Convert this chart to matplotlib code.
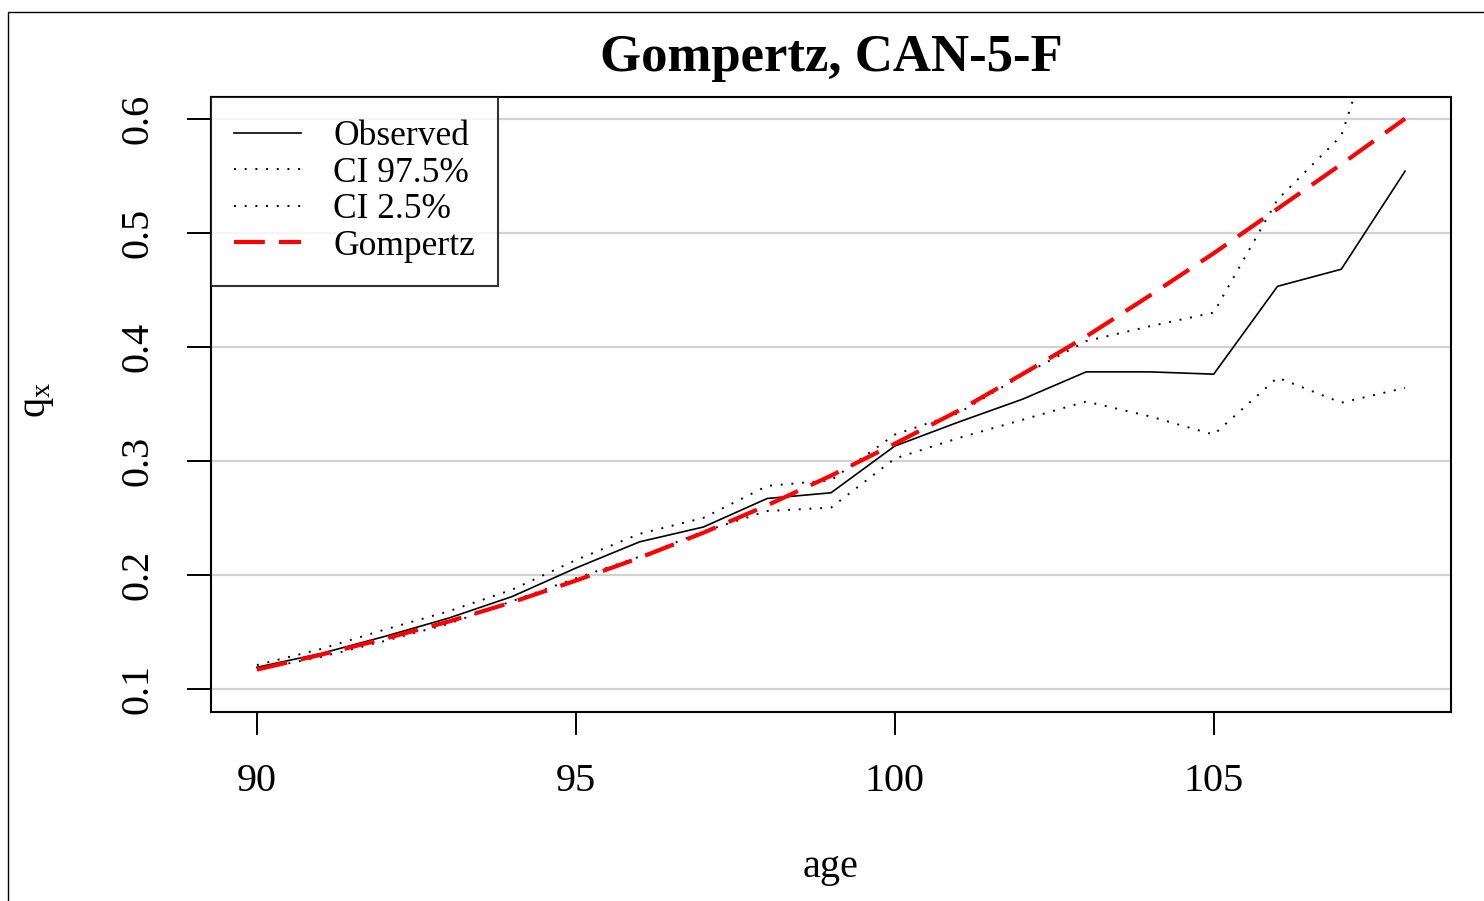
import matplotlib
matplotlib.use("Agg")
import matplotlib.pyplot as plt
from matplotlib.patches import Rectangle

plt.rcParams["font.family"] = ["Liberation Serif", "DejaVu Serif"]
plt.rcParams["mathtext.fontset"] = "custom"
plt.rcParams["mathtext.rm"] = "Liberation Serif"

age = list(range(90, 109))
observed = [0.119, 0.131, 0.146, 0.162, 0.181, 0.206, 0.229, 0.242, 0.267, 0.272,
            0.313, 0.334, 0.354, 0.378, 0.378, 0.376, 0.453, 0.468, 0.554]
ci_upper = [0.121, 0.135, 0.152, 0.168, 0.187, 0.213, 0.236, 0.250, 0.278, 0.283,
            0.323, 0.342, 0.375, 0.405, 0.418, 0.430, 0.529, 0.585, 0.756]
ci_lower = [0.117, 0.128, 0.142, 0.157, 0.177, 0.197, 0.216, 0.238, 0.256, 0.259,
            0.302, 0.320, 0.336, 0.352, 0.339, 0.323, 0.373, 0.351, 0.364]
gompertz = [0.117, 0.130, 0.144, 0.159, 0.176, 0.195, 0.215, 0.237, 0.261, 0.287,
            0.315, 0.344, 0.376, 0.409, 0.445, 0.482, 0.521, 0.560, 0.600]
xticks = [90, 95, 100, 105]
yticks = [0.1, 0.2, 0.3, 0.4, 0.5, 0.6]

W, H = 1484, 901
fig = plt.figure(figsize=(W / 100, H / 100), dpi=100)
ax = fig.add_axes([211 / W, 1 - 712 / H, (1451 - 211) / W, (712 - 97) / H])

for y in yticks:
    ax.axhline(y, color="#d2d2d2", lw=1.6, zorder=0)

dots = (0, (1, 4.5))
ax.plot(age, observed, color="black", lw=1.2, label="Observed")
ax.plot(age, ci_upper, color="black", lw=1.4, ls=dots, label="CI 97.5%")
ax.plot(age, ci_lower, color="black", lw=1.4, ls=dots, label="CI 2.5%")
ax.plot(age, gompertz, color="red", lw=3, ls=(0, (7.4, 3.4)), label="Gompertz")

ax.set_xlim(89.28, 108.72)
ax.set_ylim(0.0798, 0.619)
ax.set_xticks(xticks)
ax.set_xticklabels([str(v) for v in xticks])
ax.set_yticks(yticks)
ax.set_yticklabels([f"{v:.1f}" for v in yticks], rotation=90, va="center")
ax.tick_params(axis="x", length=16.6, width=1.4, pad=20, labelsize=29)
ax.tick_params(axis="y", length=17, width=1.4, pad=22, labelsize=29)
for s in ax.spines.values():
    s.set_linewidth(1.5)

leg = ax.legend(loc="upper left", borderaxespad=0, fontsize=25.5, frameon=True,
                fancybox=False, edgecolor="black", handlelength=1.9,
                handletextpad=0.9, labelspacing=0.1, borderpad=0.65)
leg.get_frame().set_linewidth(1.5)

fig.text(831 / W, 1 - 58 / H, "Gompertz, CAN-5-F", ha="center", va="center",
         fontsize=38, fontweight="bold")
fig.text(831 / W, 1 - 868 / H, "age", ha="center", va="center", fontsize=29)
fig.text(37 / W, 1 - 400 / H, r"$\mathregular{q_x}$", ha="center", va="center",
         rotation=90, fontsize=29)

fig.add_artist(Rectangle((8 / W, -0.05), 1.1, 1.05 - 12 / H, transform=fig.transFigure,
                         fill=False, lw=1, edgecolor="black"))

fig.savefig("out.png", dpi=100)
